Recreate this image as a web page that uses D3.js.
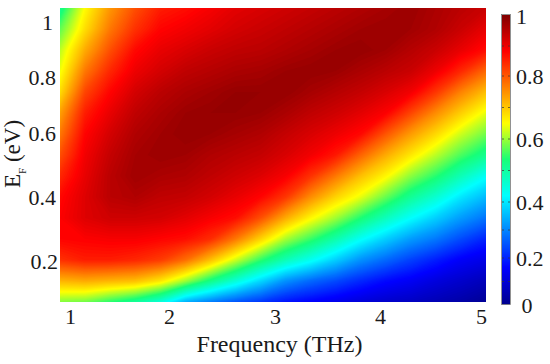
<!DOCTYPE html>
<html>
<head>
<meta charset="utf-8">
<script src="https://cdn.jsdelivr.net/npm/d3@7"></script>
<style>
  body { margin: 0; background: #fff; }
  text { font-family: "Liberation Serif", serif; fill: #1a1a1a; }
</style>
</head>
<body>
<div id="container"></div>
<script>
// frequency of each grid column (THz)
var freqs = [0.9, 1.14, 1.39, 1.63, 1.87, 2.12, 2.36, 2.61, 2.85, 3.09, 3.34, 3.58, 3.83, 4.07, 4.31, 4.56, 4.8, 5.05]
// fermi level of each grid row (eV), top row first
var fermi = [1.05, 0.98, 0.91, 0.84, 0.77, 0.7, 0.63, 0.56, 0.49, 0.42, 0.35, 0.28, 0.21, 0.14, 0.07]

// values, one row per fermi level
var row105 = [.48, .63, .73, .80, .85, .865, .885, .905, .915, .925, .935, .945, .955, .965, .975, .96, .945, .93]
var row098 = [.54, .66, .76, .83, .875, .89, .905, .92, .93, .94, .95, .96, .97, .975, .97, .955, .93, .90]
var row091 = [.59, .71, .80, .87, .90, .915, .93, .94, .945, .955, .965, .975, .98, .97, .95, .93, .90, .865]
var row084 = [.62, .76, .84, .895, .92, .94, .95, .96, .965, .975, .98, .975, .96, .945, .93, .895, .84, .775]
var row077 = [.66, .81, .875, .92, .945, .96, .97, .98, .98, .98, .965, .95, .935, .915, .89, .825, .75, .69]
var row070 = [.72, .85, .90, .94, .96, .975, .98, .98, .975, .96, .94, .925, .905, .88, .81, .74, .675, .615]
var row063 = [.76, .875, .92, .955, .97, .98, .975, .965, .955, .935, .915, .895, .87, .795, .725, .665, .60, .55]
var row056 = [.80, .89, .935, .965, .975, .97, .955, .945, .935, .915, .89, .855, .78, .71, .65, .59, .53, .48]
var row049 = [.84, .90, .945, .97, .96, .955, .94, .925, .91, .885, .83, .76, .69, .635, .565, .51, .445, .385]
var row042 = [.87, .91, .945, .955, .94, .935, .92, .90, .875, .825, .74, .67, .615, .545, .475, .42, .355, .31]
var row035 = [.88, .91, .925, .925, .92, .905, .885, .865, .80, .71, .635, .575, .505, .44, .38, .33, .28, .24]
var row028 = [.875, .88, .885, .885, .875, .865, .835, .76, .67, .58, .52, .455, .385, .33, .28, .245, .20, .16]
var row021 = [.83, .85, .85, .84, .82, .77, .69, .60, .515, .445, .39, .33, .27, .23, .19, .155, .12, .10]
var row014 = [.70, .71, .70, .69, .65, .575, .49, .415, .34, .27, .23, .20, .165, .135, .115, .09, .07, .05]
var row007 = [.56, .55, .51, .47, .41, .30, .25, .21, .18, .145, .125, .105, .085, .07, .06, .045, .03, .01]

var xTicks = [1, 2, 3, 4, 5]
var yTicks = [0.2, 0.4, 0.6, 0.8, 1]
var barTicks = [0, 0.2, 0.4, 0.6, 0.8, 1]
var barMinorTicks = [0.1, 0.2, 0.3, 0.4, 0.5, 0.6, 0.7, 0.8, 0.9]
var xTitle = 'Frequency (THz)'

var rows = [row105, row098, row091, row084, row077, row070, row063, row056, row049, row042, row035, row028, row021, row014, row007]

var width = 550
var height = 364
var plot = { left: 60, right: 486, top: 8, bottom: 302 }

var svg = d3.select('#container').append('svg')
    .attr('width', width)
    .attr('height', height)
    .style('display', 'block')

// jet, with the greener middle of the original
var jet = d3.scaleLinear()
    .domain([0, 0.125, 0.375, 0.5, 0.625, 0.875, 1])
    .range(['#00008f', '#0000ff', '#00ffff', '#18ff78', '#ffff00', '#ff0000', '#800000'])

// the labels in the picture are not evenly spaced, so the axes are piecewise
var x = d3.scaleLinear().domain([1, 2, 3, 4, 5]).range([70, 169, 275, 380, 481])
var y = d3.scaleLinear().domain([0.2, 0.4, 0.6, 0.8, 1]).range([261, 197, 133, 77, 22])
var barY = d3.scaleLinear().domain([0, 0.2, 0.4, 0.6, 0.8, 1]).range([305, 258, 202, 139, 76, 16])

// grid positions -> pixels, d3.contours puts grid point i at i + 0.5
var n = freqs.length
var m = fermi.length
var gridX = d3.scaleLinear().domain([0.5, n - 0.5]).range([plot.left, plot.right])
var gridY = d3.scaleLinear().domain([0.5, m - 0.5]).range([plot.top, plot.bottom])

svg.append('clipPath').attr('id', 'plot-clip')
    .append('rect')
    .attr('x', plot.left)
    .attr('y', plot.top)
    .attr('width', plot.right - plot.left)
    .attr('height', plot.bottom - plot.top)

var contours = d3.contours()
    .size([n, m])
    .thresholds(d3.range(0, 1, 0.005))(rows.flat())

var path = d3.geoPath(d3.geoTransform({
    point: function(px, py) {
        this.stream.point(gridX(px), gridY(py))
    }
}))

svg.append('g')
    .attr('clip-path', 'url(#plot-clip)')
    .selectAll('path')
    .data(contours)
    .enter()
    .append('path')
    .attr('d', path)
    .attr('fill', function(d) { return jet(d.value) })

// x axis
var xAxis = svg.append('g')
    .attr('transform', 'translate(0,' + plot.bottom + ')')
    .call(d3.axisBottom(x).tickValues(xTicks).tickSize(0).tickPadding(6).tickFormat(d3.format('d')))
xAxis.select('.domain').remove()
xAxis.selectAll('.tick text').attr('font-size', 22)

// y axis
var yAxis = svg.append('g')
    .attr('transform', 'translate(56,0)')
    .call(d3.axisLeft(y).tickValues(yTicks).tickSize(0).tickPadding(0).tickFormat(function(d) { return d === 1 ? '1' : d3.format('.1f')(d) }))
yAxis.select('.domain').remove()
yAxis.selectAll('.tick text')
    .attr('font-size', 22)
    .attr('dx', function(d) { return d === 1 ? -3 : d === 0.2 ? 2 : 0 })

svg.append('text')
    .attr('x', 279.5)
    .attr('y', 352)
    .attr('text-anchor', 'middle')
    .attr('font-size', 24)
    .text(xTitle)

var yTitle = svg.append('text')
    .attr('transform', 'translate(20,188) rotate(-90)')
    .attr('font-size', 23)
yTitle.append('tspan').text('E')
yTitle.append('tspan').attr('font-size', 11).attr('dy', 6).text('F')
yTitle.append('tspan').attr('dy', -6).text(' (eV)')

// colorbar
var barSlices = d3.range(0, 1, 1 / 289)
var barPos = d3.scaleLinear().domain([0, 1]).range([304, 15])
var bar = svg.append('g')
bar.selectAll('rect')
    .data(barSlices)
    .enter()
    .append('rect')
    .attr('x', 502)
    .attr('width', 8)
    .attr('y', function(d) { return barPos(d) - 1 })
    .attr('height', 1.5)
    .attr('fill', function(d) { return jet(d) })
bar.append('rect')
    .attr('x', 501.5)
    .attr('y', 14.5)
    .attr('width', 9)
    .attr('height', 290)
    .attr('fill', 'none')
    .attr('stroke', '#777')
    .attr('stroke-width', 0.8)

// small ticks on both edges of the bar
var barMinor = svg.append('g')
    .selectAll('g')
    .data(barMinorTicks)
    .enter()
    .append('g')
    .attr('transform', function(d) { return 'translate(0,' + barY(d) + ')' })
barMinor.append('line').attr('x1', 502).attr('x2', 504)
barMinor.append('line').attr('x1', 508).attr('x2', 510)
barMinor.selectAll('line').attr('stroke', '#333').attr('stroke-opacity', 0.7)

var barAxis = svg.append('g')
    .attr('transform', 'translate(510,0)')
    .call(d3.axisRight(barY).tickValues(barTicks).tickSize(0).tickPadding(6).tickFormat(function(d) { return d === 0 || d === 1 ? d : d3.format('.1f')(d) }))
barAxis.select('.domain').remove()
barAxis.selectAll('.tick text')
    .attr('font-size', 22)
    .attr('dx', function(d) { return d === 0 ? 5.5 : 0 })
</script>
</body>
</html>
